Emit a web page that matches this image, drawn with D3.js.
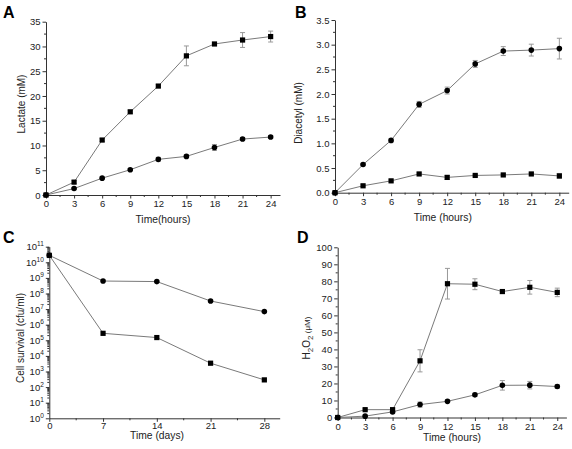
<!DOCTYPE html>
<html><head><meta charset="utf-8">
<script src="https://cdn.jsdelivr.net/npm/d3@7"></script>
<style>body{margin:0;background:#fff}svg{display:block;font-family:"Liberation Sans",Arial,sans-serif}</style>
</head><body>
<svg id="c" width="572" height="449"></svg>
<script>
// ---- data ----
const hours = [0,3,6,9,12,15,18,21,24];
const hourTicks = [0,3,6,9,12,15,18,21,24];
const days = [0,7,14,21,28];
const dayTicks = [0,7,14,21,28];

const lactateSq = [0,2.6,11.1,16.8,22.0,28.1,30.5,31.3,32.0];
const lactateSqErr = [0,0.3,0.3,0.3,0.3,2.0,0.3,1.5,1.1];
const lactateCi = [0,1.3,3.4,5.1,7.2,7.8,9.6,11.3,11.7];
const lactateCiErr = [0,0.2,0.2,0.2,0.4,0.3,0.6,0.3,0.3];
const lactateTicks = [0,5,10,15,20,25,30,35];

const diacetylCi = [0,0.57,1.06,1.79,2.07,2.61,2.87,2.89,2.92];
const diacetylCiErr = [0,0.02,0.03,0.06,0.07,0.07,0.09,0.12,0.21];
const diacetylSq = [0,0.14,0.24,0.38,0.31,0.35,0.36,0.38,0.34];
const diacetylSqErr = [0,0.02,0.02,0.02,0.04,0.02,0.02,0.02,0.05];
const diacetylTicks = [0,0.5,1.0,1.5,2.0,2.5,3.0,3.5];

const survivalCi = [2.8e10,6.3e8,5.8e8,3.3e7,6.9e6];
const survivalSq = [2.8e10,2.8e5,1.5e5,3.4e3,2.9e2];
const survivalExp = [0,1,2,3,4,5,6,7,8,9,10,11];

const h2o2Sq = [0,4.6,4.6,33.3,78.6,78.3,74.0,76.5,73.5];
const h2o2SqErr = [0,0.5,0.5,6.5,9.0,3.2,1.0,4.0,2.5];
const h2o2Ci = [0,0.8,3.3,7.6,9.5,13.3,18.9,19.0,18.2];
const h2o2CiErr = [0,0.4,0.5,1.5,0.8,1.0,2.8,2.2,1.0];
const h2o2Ticks = [0,10,20,30,40,50,60,70,80,90,100];

// ---- drawing ----
const svg = d3.select("#c");
const AX = "#333", LN = "#7a7a7a", MK = "#000", ER = "#999";

function panel(o){
  const g = svg.append("g");
  const x = d3.scaleLinear().domain(o.xDom).range([o.x0,o.x1]);
  const y = (o.log ? d3.scaleLog() : d3.scaleLinear()).domain(o.yDom).range([o.y0,o.y1]);
  const xa = d3.axisBottom(x).tickValues(o.xTicks).tickSize(3.5).tickSizeOuter(0).tickPadding(o.xPad==null?2:o.xPad).tickFormat(d=>d);
  const gx = g.append("g").attr("transform",`translate(0,${o.y0})`).call(xa);
  const ya = d3.axisLeft(y).tickValues(o.yTicks).tickSize(3.5).tickSizeOuter(0).tickPadding(2).tickFormat(o.yFmt||(d=>d));
  const gy = g.append("g").attr("transform",`translate(${o.x0},0)`).call(ya);
  [gx,gy].forEach(a=>{a.selectAll("path,line").attr("stroke",AX);a.selectAll("text").attr("fill","#222").style("font-size","9.5px").attr("font-family",null);});
  g.append("g").selectAll("line").data(o.xMinor).join("line")
    .attr("x1",d=>x(d)).attr("x2",d=>x(d)).attr("y1",o.y0).attr("y2",o.y0+2).attr("stroke",AX);
  g.append("g").selectAll("line").data(o.yMinor).join("line")
    .attr("y1",d=>y(d)).attr("y2",d=>y(d)).attr("x1",o.x0).attr("x2",o.x0-2).attr("stroke",AX);
  if(o.log){
    gy.selectAll(".tick text").text(null).each(function(d){
      const t=d3.select(this);
      t.append("tspan").text("10");
      t.append("tspan").attr("dy","-4").style("font-size","6.5px").text(Math.round(Math.log10(d)));
    });
  }
  o.series.forEach(s=>{
    const pts = o.xs.map((v,i)=>({x:v,y:s.v[i],e:s.e?s.e[i]:0}));
    const line = d3.line().x(d=>x(d.x)).y(d=>y(d.y));
    g.append("g").selectAll("g").data(pts.filter(d=>d.e>0)).join("g").each(function(d){
      const e=d3.select(this);
      e.append("line").attr("x1",x(d.x)).attr("x2",x(d.x)).attr("y1",y(d.y-d.e)).attr("y2",y(d.y+d.e)).attr("stroke",ER);
      [d.y-d.e,d.y+d.e].forEach(v=>e.append("line").attr("x1",x(d.x)-2.5).attr("x2",x(d.x)+2.5).attr("y1",y(v)).attr("y2",y(v)).attr("stroke",ER));
    });
    g.append("path").datum(pts).attr("d",line).attr("fill","none").attr("stroke",LN).attr("stroke-width",1);
    if(s.shape==="sq"){
      g.append("g").selectAll("rect").data(pts).join("rect")
        .attr("x",d=>x(d.x)-2.6).attr("y",d=>y(d.y)-2.6).attr("width",5.2).attr("height",5.2).attr("fill",MK);
    } else {
      g.append("g").selectAll("circle").data(pts).join("circle")
        .attr("cx",d=>x(d.x)).attr("cy",d=>y(d.y)).attr("r",2.8).attr("fill",MK);
    }
  });
  g.append("text").attr("x",(o.x0+o.x1)/2 + (o.xtOff||0)).attr("y",o.xtY).attr("text-anchor","middle")
    .style("font-size","10.3px").attr("fill","#222").text(o.xTitle);
  const yt = g.append("text").attr("transform",`translate(${o.ytX},${o.ytY}) rotate(-90)`).attr("text-anchor","middle")
    .style("font-size","10px").attr("fill","#222");
  if(o.yTitleParts){ o.yTitleParts.forEach(p=>{const ts=yt.append("tspan").text(p.t); if(p.dy) ts.attr("dy",p.dy); if(p.fs) ts.style("font-size",p.fs);}); }
  else yt.text(o.yTitle);
  g.append("text").attr("x",o.lx).attr("y",o.ly).style("font-size","16px").style("font-weight","bold").attr("fill","#000").text(o.label);
}

const half = (arr,step)=>arr.slice(0,-1).map(d=>d+step/2);

panel({label:"A",lx:3,ly:17.5,x0:46,x1:280,y0:195,y1:21.7,xDom:[0,25],yDom:[0,35],xs:hours,
  xTicks:hourTicks,xMinor:half(hourTicks,3),yTicks:lactateTicks,yMinor:half(lactateTicks,5),
  xTitle:"Time(hours)",xtY:223,ytX:25,ytY:104,yTitle:"Lactate (mM)",
  series:[{v:lactateSq,e:lactateSqErr,shape:"sq"},{v:lactateCi,e:lactateCiErr,shape:"ci"}]});

panel({label:"B",lx:295,ly:18,x0:335,x1:568.7,y0:192.7,y1:20,xDom:[0,25],yDom:[0,3.5],xs:hours,
  xTicks:hourTicks,xMinor:half(hourTicks,3),yTicks:diacetylTicks,yMinor:half(diacetylTicks,0.5),yFmt:d3.format(".1f"),
  xTitle:"Time (hours)",xtY:221,xtOff:-9,ytX:302,ytY:113,yTitle:"Diacetyl (mM)",
  series:[{v:diacetylCi,e:diacetylCiErr,shape:"ci"},{v:diacetylSq,e:diacetylSqErr,shape:"sq"}]});

const logMinor=[]; survivalExp.slice(0,-1).forEach(e=>{for(let k=2;k<10;k++) logMinor.push(k*Math.pow(10,e));});
panel({label:"C",lx:3,ly:243,x0:49.3,x1:279.7,y0:418.3,y1:246.7,xDom:[0,30],yDom:[1,1e11],log:true,xs:days,
  xTicks:dayTicks,xMinor:half(dayTicks,7),yTicks:survivalExp.map(e=>Math.pow(10,e)),yMinor:logMinor,xPad:0,
  xTitle:"Time (days)",xtY:438.5,xtOff:-7.5,ytX:24,ytY:338,yTitle:"Cell survival (cfu/ml)",
  series:[{v:survivalCi,shape:"ci"},{v:survivalSq,shape:"sq"}]});

panel({label:"D",lx:297,ly:243,x0:337.7,x1:566.4,y0:417.5,y1:247.3,xDom:[0,25],yDom:[0,100],xs:hours,
  xTicks:hourTicks,xMinor:half(hourTicks,3),yTicks:h2o2Ticks,yMinor:half(h2o2Ticks,10),
  xTitle:"Time (hours)",xtY:441,ytX:310,ytY:338,
  yTitleParts:[{t:"H"},{t:"2",dy:"3",fs:"8px"},{t:"O",dy:"-3"},{t:"2",dy:"3",fs:"8px"},{t:" (μM)",dy:"-3",fs:"8px"}],
  series:[{v:h2o2Sq,e:h2o2SqErr,shape:"sq"},{v:h2o2Ci,e:h2o2CiErr,shape:"ci"}]});
</script>
</body></html>
